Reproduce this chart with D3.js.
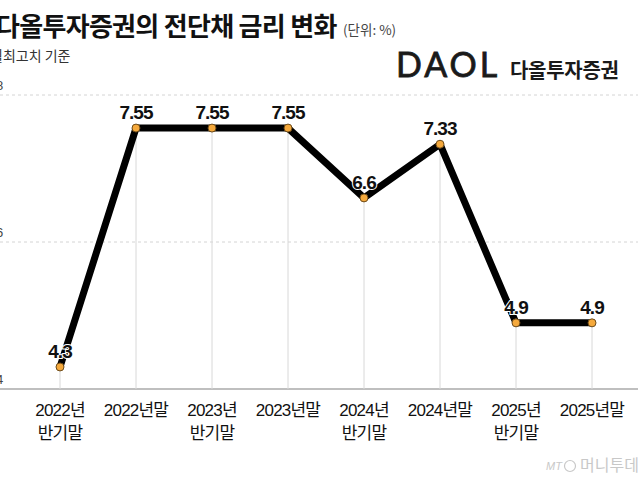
<!doctype html>
<html>
<head>
    <meta charset="utf-8">
    <script src="https://d3js.org/d3.v7.min.js"></script>
    <style>
        body { margin: 0; background: #fff; }
    </style>
</head>
<body>
    <script>
        var width = 638;
        var height = 480;

        // data
        var categories = ["2022년|반기말", "2022년말", "2023년|반기말", "2023년말",
                          "2024년|반기말", "2024년말", "2025년|반기말", "2025년말"];
        var rates = [4.3, 7.55, 7.55, 7.55, 6.6, 7.33, 4.9, 4.9];
        var rateLabels = ["4.3", "7.55", "7.55", "7.55", "6.6", "7.33", "4.9", "4.9"];
        var yTicks = [4, 6, 8];

        var details = categories.map(function(c, i){
            return {cat: c, rate: rates[i], label: rateLabels[i]};
        });

        var xScale = d3.scalePoint()
                       .domain(categories)
                       .range([60, 592]);
        var yScale = d3.scaleLinear()
                       .domain([4, 8])
                       .range([389, 95]);

        var svg = d3.select("body")
                    .append("svg")
                    .attr("width", width)
                    .attr("height", height)
                    .style("display", "block")
                    .style("background", "#fff");

        var kr = "'Noto Sans CJK KR', 'Noto Sans', sans-serif";
        var narrow = "'Liberation Sans Narrow', 'Liberation Sans', 'Noto Sans CJK KR', sans-serif";

        // title
        svg.append("text")
           .attr("x", -4)
           .attr("y", 36)
           .style("font-family", kr)
           .style("font-weight", "bold")
           .style("font-size", "26px")
           .style("letter-spacing", "-0.7px")
           .style("fill", "#111")
           .text("다올투자증권의 전단채 금리 변화");

        svg.append("text")
           .attr("x", 343)
           .attr("y", 35)
           .style("font-family", kr)
           .style("font-size", "13.5px")
           .style("fill", "#444")
           .text("(단위: %)");

        svg.append("text")
           .attr("x", -10)
           .attr("y", 61)
           .style("font-family", kr)
           .style("font-size", "14px")
           .style("fill", "#333")
           .text("월최고치 기준");

        // logo
        svg.append("text")
           .attr("x", 396)
           .attr("y", 77)
           .style("font-family", "Lato, 'DejaVu Sans', sans-serif")
           .style("font-size", "34px")
           .style("letter-spacing", "3px")
           .style("fill", "#1a1a1a")
           .style("stroke", "#1a1a1a")
           .style("stroke-width", 0.8)
           .text("DAOL");

        svg.append("text")
           .attr("x", 510)
           .attr("y", 78)
           .style("font-family", kr)
           .style("font-weight", "bold")
           .style("font-size", "20px")
           .style("letter-spacing", "-0.3px")
           .style("fill", "#1a1a1a")
           .text("다올투자증권");

        // horizontal grid (dashed) and baseline
        svg.selectAll("line.grid")
           .data(yTicks.filter(function(d){ return d > 4; }))
           .enter()
           .append("line")
           .attr("class", "grid")
           .attr("x1", 0)
           .attr("x2", width)
           .attr("y1", function(d){ return yScale(d); })
           .attr("y2", function(d){ return yScale(d); })
           .style("stroke", "#d4d4d4")
           .style("stroke-width", 1)
           .style("stroke-dasharray", "3,3");

        svg.append("line")
           .attr("x1", 0)
           .attr("x2", width)
           .attr("y1", yScale(4))
           .attr("y2", yScale(4))
           .style("stroke", "#aaa")
           .style("stroke-width", 1.5);

        // y tick labels (clipped at left edge)
        svg.selectAll("text.ytick")
           .data(yTicks)
           .enter()
           .append("text")
           .attr("class", "ytick")
           .attr("x", -4)
           .attr("y", function(d){ return yScale(d) - 5; })
           .style("font-family", narrow)
           .style("font-size", "13px")
           .style("fill", "#444")
           .text(function(d){ return d; });

        // drop lines
        svg.selectAll("line.drop")
           .data(details)
           .enter()
           .append("line")
           .attr("class", "drop")
           .attr("x1", function(d){ return xScale(d.cat); })
           .attr("x2", function(d){ return xScale(d.cat); })
           .attr("y1", function(d){ return yScale(d.rate); })
           .attr("y2", yScale(4))
           .style("stroke", "#d8d8d8")
           .style("stroke-width", 1);

        // line
        var line = d3.line()
                     .x(function(d){ return xScale(d.cat); })
                     .y(function(d){ return yScale(d.rate); });

        svg.append("path")
           .datum(details)
           .attr("d", line)
           .style("fill", "none")
           .style("stroke", "#000")
           .style("stroke-width", 7)
           .style("stroke-linejoin", "round");

        // value labels
        svg.selectAll("text.val")
           .data(details)
           .enter()
           .append("text")
           .attr("class", "val")
           .attr("x", function(d){ return xScale(d.cat); })
           .attr("y", function(d){ return yScale(d.rate) - 9; })
           .attr("text-anchor", "middle")
           .style("font-family", narrow)
           .style("font-weight", "bold")
           .style("font-size", "19px")
           .style("letter-spacing", "-1px")
           .style("fill", "#111")
           .style("stroke", "#fff")
           .style("stroke-width", 2)
           .style("paint-order", "stroke")
           .text(function(d){ return d.label; });

        // points
        svg.selectAll("circle.pt")
           .data(details)
           .enter()
           .append("circle")
           .attr("class", "pt")
           .attr("cx", function(d){ return xScale(d.cat); })
           .attr("cy", function(d){ return yScale(d.rate); })
           .attr("r", 4)
           .style("fill", "#f5a93c")
           .style("stroke", "#6b4a1a")
           .style("stroke-width", 1);

        // x labels
        var xl = svg.selectAll("text.xlab")
                    .data(categories)
                    .enter()
                    .append("text")
                    .attr("class", "xlab")
                    .attr("text-anchor", "middle")
                    .style("font-family", narrow)
                    .style("font-size", "17px")
                    .style("letter-spacing", "-0.8px")
                    .style("fill", "#111");

        xl.each(function(c){
            var parts = c.split("|");
            var t = d3.select(this);
            parts.forEach(function(p, i){
                t.append("tspan")
                 .attr("x", xScale(c))
                 .attr("y", 416 + i * 23)
                 .text(p);
            });
        });

        // watermark
        svg.append("text")
           .attr("x", 546)
           .attr("y", 470)
           .style("font-family", "'Liberation Sans', sans-serif")
           .style("font-style", "italic")
           .style("font-size", "11px")
           .style("fill", "#c8c8c8")
           .text("MT");
        svg.append("circle")
           .attr("cx", 570)
           .attr("cy", 466)
           .attr("r", 5.5)
           .style("fill", "none")
           .style("stroke", "#c8c8c8")
           .style("stroke-width", 1.2);
        svg.append("text")
           .attr("x", 580)
           .attr("y", 471)
           .style("font-family", kr)
           .style("font-size", "16px")
           .style("fill", "#c8c8c8")
           .text("머니투데이");
    </script>
</body>
</html>
